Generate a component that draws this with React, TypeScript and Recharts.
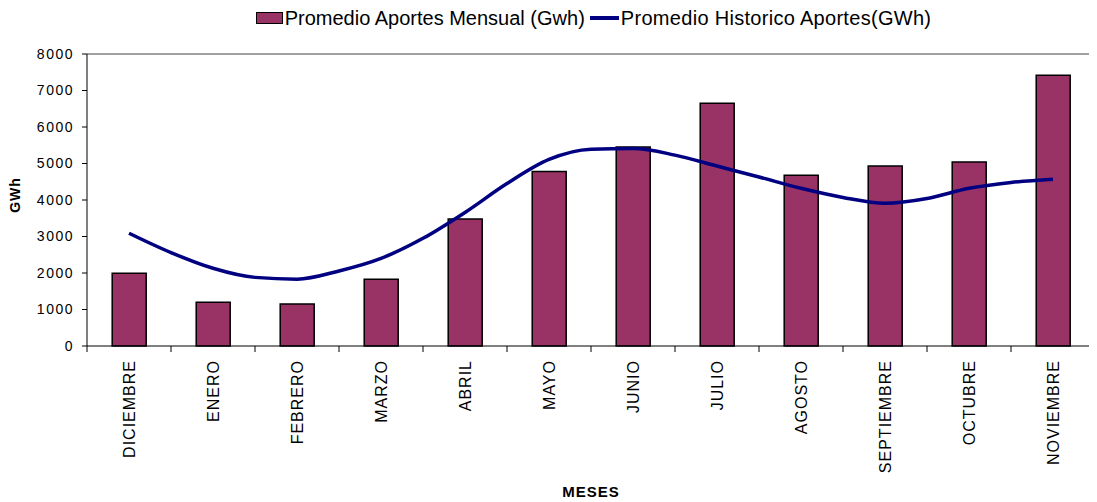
import { ComposedChart, Bar, Line, XAxis, YAxis, Legend, ReferenceLine, Label } from "recharts";

const meses = [
  "DICIEMBRE", "ENERO", "FEBRERO", "MARZO", "ABRIL", "MAYO",
  "JUNIO", "JULIO", "AGOSTO", "SEPTIEMBRE", "OCTUBRE", "NOVIEMBRE",
];
const aportesMensual = [1990, 1200, 1150, 1830, 3480, 4780, 5450, 6650, 4680, 4930, 5040, 7420];

// historico leido cada medio mes (0 = centro de DICIEMBRE)
const posHistorico = [0, 0.5, 1, 1.5, 2, 2.5, 3, 3.5, 4, 4.5, 5, 5.5, 6, 6.5, 7, 7.5, 8, 8.5, 9, 9.5, 10, 10.5, 11];
const aportesHistorico = [
  3090, 2560, 2130, 1880, 1830, 2055, 2400, 2950, 3660, 4450, 5110, 5390,
  5410, 5230, 4930, 4630, 4320, 4070, 3910, 4040, 4320, 4480, 4570,
];

const yTicks = [0, 1000, 2000, 3000, 4000, 5000, 6000, 7000, 8000];
const limitesMes = [-0.5, 0.5, 1.5, 2.5, 3.5, 4.5, 5.5, 6.5, 7.5, 8.5, 9.5, 10.5, 11.5];

const barras = meses.map((mes, i) => ({ mes, valor: aportesMensual[i] }));
const linea = posHistorico.map((x, i) => ({ x, v: aportesHistorico[i] }));

const FONT = "'Liberation Sans', Arial, sans-serif";

// ids ordenados: el eje de limites va pegado al area del grafico
const EJE_LIMITES = "a_limites";
const EJE_MESES = "b_meses";

function MesTick({ x, y, payload }: any) {
  return (
    <text
      x={x}
      y={y}
      transform={`rotate(-90, ${x}, ${y})`}
      textAnchor="end"
      dy="0.36em"
      fontFamily={FONT}
      fontSize={16}
      letterSpacing={1}
      fill="#000"
    >
      {payload.value}
    </text>
  );
}

function Leyenda() {
  return (
    <div
      style={{
        height: 20,
        display: "flex",
        alignItems: "center",
        justifyContent: "center",
        paddingLeft: 82,
        fontFamily: FONT,
        fontSize: 20,
        color: "#000",
        whiteSpace: "nowrap",
      }}
    >
      <span style={{ width: 25, height: 10, background: "#993366", border: "1.5px solid #000", marginRight: 2 }} />
      <span>Promedio Aportes Mensual (Gwh)</span>
      <span style={{ width: 29, height: 3.5, background: "#000080", margin: "0 2px 0 5px" }} />
      <span style={{ letterSpacing: 0.3 }}>Promedio Historico Aportes(GWh)</span>
    </div>
  );
}

export default function App() {
  return (
    <div style={{ width: 1089, height: 494 }}>
      <ComposedChart
        width={1089}
        height={494}
        data={barras}
        margin={{ top: 26, right: 2, left: 0, bottom: 0 }}
        barCategoryGap="30%"
      >
        <Legend
          verticalAlign="top"
          content={() => <Leyenda />}
          wrapperStyle={{ top: 0, left: 0, width: 1089 }}
        />
        <XAxis
          xAxisId={EJE_LIMITES}
          type="number"
          dataKey="x"
          domain={[-0.5, 11.5]}
          ticks={limitesMes}
          allowDataOverflow
          height={8}
          tickSize={6}
          tickFormatter={() => ""}
          axisLine={{ stroke: "#000" }}
          tickLine={{ stroke: "#000" }}
        />
        <XAxis
          xAxisId={EJE_MESES}
          dataKey="mes"
          height={148}
          axisLine={false}
          tickLine={false}
          tickSize={0}
          tickMargin={6}
          interval={0}
          tick={<MesTick />}
        >
          <Label
            value="MESES"
            position="insideBottom"
            offset={5}
            style={{ fontFamily: FONT, fontSize: 15, fontWeight: "bold", letterSpacing: 1, fill: "#000" }}
          />
        </XAxis>
        <YAxis
          width={79}
          domain={[0, 8000]}
          ticks={yTicks}
          tickSize={5}
          tickMargin={8}
          axisLine={{ stroke: "#000" }}
          tickLine={{ stroke: "#000" }}
          tick={{ fontFamily: FONT, fontSize: 14, letterSpacing: 1.5, fill: "#000" }}
        >
          <Label
            content={({ viewBox }: any) => {
              const cx = viewBox.x + 7;
              const cy = viewBox.y + viewBox.height / 2 - 5;
              return (
                <text
                  x={cx}
                  y={cy}
                  transform={`rotate(-90, ${cx}, ${cy})`}
                  textAnchor="middle"
                  dominantBaseline="central"
                  fontFamily={FONT}
                  fontSize={14}
                  fontWeight="bold"
                  letterSpacing={1}
                  fill="#000"
                >
                  GWh
                </text>
              );
            }}
          />
        </YAxis>
        <ReferenceLine xAxisId={EJE_MESES} y={8000} stroke="#808080" strokeWidth={1.5} />
        <Bar
          xAxisId={EJE_MESES}
          dataKey="valor"
          fill="#993366"
          stroke="#000"
          strokeWidth={1.5}
          isAnimationActive={false}
        />
        <Line
          xAxisId={EJE_LIMITES}
          data={linea}
          dataKey="v"
          type="monotone"
          stroke="#000080"
          strokeWidth={3.5}
          dot={false}
          isAnimationActive={false}
        />
      </ComposedChart>
    </div>
  );
}
